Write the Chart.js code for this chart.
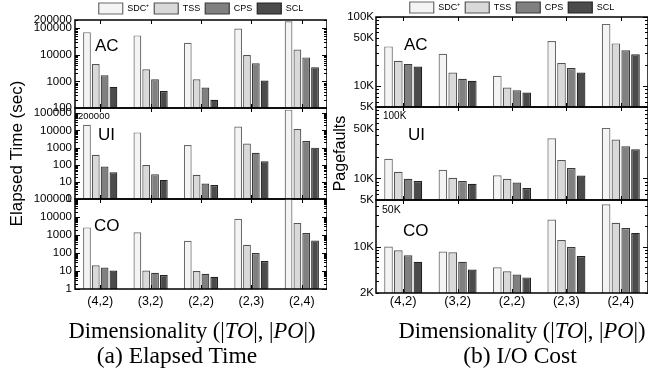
<!DOCTYPE html>
<html>
<head>
<meta charset="utf-8">
<script src="https://cdn.jsdelivr.net/npm/chart.js@4.4.0/dist/chart.umd.min.js"></script>
<style>
  body { margin: 0; background: #fff; }
  #wrap { position: relative; width: 659px; height: 372px; overflow: hidden; }
  canvas { position: absolute; }
  .lbl { position: absolute; font-family: "Liberation Sans", Arial, sans-serif; line-height: 1; color: #000; white-space: nowrap; }
  .cap { position: absolute; font-family: "Liberation Serif", "Times New Roman", serif; line-height: 1; transform: translateX(-50%); white-space: nowrap; color: #000; }
</style>
</head>
<body>
<div id="wrap">
  <canvas id="tAC"></canvas><canvas id="tUI"></canvas><canvas id="tCO"></canvas>
  <canvas id="pAC"></canvas><canvas id="pUI"></canvas><canvas id="pCO"></canvas>

  <div class="lbl" style="left:95px;top:37px;font-size:17px">AC</div>
  <div class="lbl" style="left:98px;top:126px;font-size:17px">UI</div>
  <div class="lbl" style="left:94px;top:217px;font-size:17px">CO</div>
  <div class="lbl" style="left:404px;top:36px;font-size:17px">AC</div>
  <div class="lbl" style="left:408px;top:126px;font-size:17px">UI</div>
  <div class="lbl" style="left:403px;top:222px;font-size:17px">CO</div>

  <div class="lbl" style="left:78px;top:111px;font-size:9.5px">200000</div>
  <div class="lbl" style="left:383px;top:111px;font-size:10px">100K</div>
  <div class="lbl" style="left:382px;top:204px;font-size:10.5px">50K</div>

  <div class="cap" style="left:192px;top:320px;font-size:22.5px">Dimensionality (|<i>TO</i>|, |<i>PO</i>|)</div>
  <div class="cap" style="left:177px;top:344px;font-size:23.5px">(a) Elapsed Time</div>
  <div class="cap" style="left:522px;top:320px;font-size:22.5px">Dimensionality (|<i>TO</i>|, |<i>PO</i>|)</div>
  <div class="cap" style="left:520px;top:344px;font-size:23.5px">(b) I/O Cost</div>
</div>

<script>
// ===== DATA =====
const categories = ["(4,2)", "(3,2)", "(2,2)", "(2,3)", "(2,4)"];
const methods = ["SDC\u207A", "TSS", "CPS", "SCL"];

// Elapsed time (sec)
const timeAC_SDC = [70000, 53000, 28000, 96000, 178000];
const timeAC_TSS = [4500, 2850, 1200, 9700, 15500];
const timeAC_CPS = [1700, 1200, 590, 4800, 7900];
const timeAC_SCL = [620, 430, 205, 1080, 3400];

const timeUI_SDC = [21000, 7600, 1400, 16500, 160000];
const timeUI_TSS = [380, 95, 26, 1700, 12000];
const timeUI_CPS = [78, 28, 8, 490, 2400];
const timeUI_SCL = [36, 13, 6.6, 160, 980];

const timeCO_SDC = [2650, 1400, 480, 8000, 120000];
const timeCO_TSS = [21, 10.5, 10, 290, 4700];
const timeCO_CPS = [15.5, 8, 7, 100, 1300];
const timeCO_SCL = [10.5, 6, 4.8, 36, 500];

// Pagefaults
const pfAC_SDC = [37600, 29400, 14100, 44800, 79500];
const pfAC_TSS = [23300, 15800, 9560, 21600, 41500];
const pfAC_CPS = [21000, 12800, 8700, 18300, 33000];
const pfAC_SCL = [19200, 12000, 8100, 15800, 29000];

const pfUI_SDC = [18900, 13200, 11100, 36400, 51000];
const pfUI_TSS = [12400, 10200, 9900, 18100, 35000];
const pfUI_CPS = [9900, 9200, 8800, 14000, 28200];
const pfUI_SCL = [9200, 8450, 7350, 11000, 25700];

const pfCO_SDC = [10000, 8400, 4860, 25400, 43000];
const pfCO_TSS = [8800, 8200, 4230, 12500, 22700];
const pfCO_CPS = [7400, 5900, 3800, 9800, 19000];
const pfCO_SCL = [5900, 4500, 3430, 7200, 16000];

// tick labels shown on each y axis
const timeTicksAC = [100, 1000, 10000, 100000, 200000];
const timeTicksUI = [1, 10, 100, 1000, 10000, 100000];
const timeTicksCO = [1, 10, 100, 1000, 10000, 100000];
const pfTicksAC = [5000, 10000, 50000, 100000];
const pfTicksUI = [5000, 10000, 50000];
const pfTicksCO = [2000, 10000];

// ===== STYLE =====
const fills   = ["#f4f4f4", "#d9d9d9", "#808080", "#4b4b4b"];
const strokes = ["#6a6a6a", "#555555", "#3a3a3a", "#222222"];

Chart.defaults.font.family = '"Liberation Sans", Arial, sans-serif';
Chart.defaults.color = "#000";

// all decade + 2..9 minor positions inside [min, max]
function logTicks(min, max) {
  const out = [];
  for (let e = Math.floor(Math.log10(min)); e <= Math.ceil(Math.log10(max)); e++) {
    for (let k = 1; k <= 9; k++) {
      const v = k * Math.pow(10, e);
      if (v >= min && v <= max) out.push(v);
    }
  }
  return out;
}

const isDecade = v => Math.abs(Math.log10(v) - Math.round(Math.log10(v))) < 1e-9;

// box round the plot with inward ticks, gnuplot style
const framePlugin = {
  id: "frame",
  afterDraw(chart) {
    const { ctx, chartArea: a, scales: { x, y } } = chart;
    ctx.save();
    ctx.strokeStyle = "#000";
    ctx.lineWidth = 1;
    ctx.beginPath();
    y.ticks.forEach(t => {
      const py = Math.round(y.getPixelForValue(t.value)) + 0.5;
      const len = isDecade(t.value) ? 5 : 3;
      ctx.moveTo(a.left, py);  ctx.lineTo(a.left + len, py);
      ctx.moveTo(a.right, py); ctx.lineTo(a.right - len, py);
    });
    x.ticks.forEach((t, i) => {
      const px = Math.round(x.getPixelForTick(i)) + 0.5;
      ctx.moveTo(px, a.top);    ctx.lineTo(px, a.top + 4);
      ctx.moveTo(px, a.bottom); ctx.lineTo(px, a.bottom - 4);
    });
    ctx.stroke();
    ctx.lineWidth = 1.5;
    ctx.strokeRect(a.left, a.top, a.right - a.left, a.bottom - a.top);
    ctx.restore();
  }
};

function subplot(id, o) {
  const cv = document.getElementById(id);
  const legendH = o.legendH || 0;
  const xH = o.showX ? o.xH : 0;
  const extra = o.title ? 50 : 10;   // spare room so edge labels and the rotated title are not cut
  const canvasTop = o.plotTop - legendH - extra;
  cv.width = o.canvasW;
  cv.height = o.plotBottom - canvasTop + xH + extra;
  cv.style.left = o.canvasLeft + "px";
  cv.style.top = canvasTop + "px";

  return new Chart(cv, {
    type: "bar",
    data: {
      labels: categories,
      datasets: methods.map((m, i) => ({
        label: m,
        data: o.series[i],
        backgroundColor: fills[i],
        borderColor: strokes[i],
        borderWidth: 1.2,
        categoryPercentage: o.catPct,
        barPercentage: 0.88
      }))
    },
    options: {
      responsive: false,
      animation: false,
      layout: { padding: { top: extra, bottom: extra, left: 0, right: 0 } },
      plugins: {
        legend: {
          display: !!o.legendH,
          position: "top",
          fullSize: false,
          maxHeight: legendH,
          labels: { boxWidth: 24, boxHeight: 11, padding: 5, font: { size: 9 }, color: "#000" }
        },
        tooltip: { enabled: false }
      },
      scales: {
        x: {
          grid: { display: false, drawTicks: false },
          border: { display: false },
          ticks: { display: !!o.showX, padding: o.xPad, font: { size: o.xFont }, color: "#000", maxRotation: 0, autoSkip: false },
          afterFit: s => { s.height = xH; s.paddingLeft = 0; s.paddingRight = 0; }
        },
        y: {
          type: "logarithmic",
          min: o.min,
          max: o.max,
          grid: { display: false, drawTicks: false },
          border: { display: false },
          afterBuildTicks: s => { s.ticks = logTicks(o.min, o.max).map(v => ({ value: v })); },
          afterFit: s => { s.width = o.yW; s.paddingTop = 0; s.paddingBottom = 0; },
          ticks: {
            autoSkip: false,
            padding: o.yPad,
            font: { size: o.yFont },
            color: "#000",
            callback: v => (o.shown.includes(v) ? o.fmt(v) : "")
          },
          title: {
            display: !!o.title,
            text: o.title || "",
            font: { size: o.titleFont || 16 },
            color: "#000",
            padding: { top: o.titlePad || 0, bottom: 0 }
          }
        }
      }
    },
    plugins: [framePlugin]
  });
}

const plain = v => String(v);
const kilo = v => (v / 1000) + "K";

const left  = { canvasLeft: 0,   canvasW: 327, yW: 75, yPad: 3, yFont: 11.5, xFont: 12.5, xPad: 5, xH: 28, catPct: 0.7,  fmt: plain };
const right = { canvasLeft: 330, canvasW: 318, yW: 46, yPad: 2, yFont: 11.5, xFont: 13,   xPad: 1, xH: 28, catPct: 0.72, fmt: kilo };

// ===== (a) ELAPSED TIME =====
subplot("tAC", Object.assign({}, left, {
  plotTop: 20, plotBottom: 108, legendH: 22, min: 100, max: 200000, shown: timeTicksAC,
  series: [timeAC_SDC, timeAC_TSS, timeAC_CPS, timeAC_SCL]
}));
subplot("tUI", Object.assign({}, left, {
  plotTop: 108, plotBottom: 199, min: 1, max: 200000, shown: timeTicksUI,
  title: "Elapsed Time (sec)", titleFont: 17, titlePad: 7,
  series: [timeUI_SDC, timeUI_TSS, timeUI_CPS, timeUI_SCL]
}));
subplot("tCO", Object.assign({}, left, {
  plotTop: 199, plotBottom: 289, min: 1, max: 100000, shown: timeTicksCO, showX: true,
  series: [timeCO_SDC, timeCO_TSS, timeCO_CPS, timeCO_SCL]
}));

// ===== (b) I/O COST =====
subplot("pAC", Object.assign({}, right, {
  plotTop: 17, plotBottom: 107, legendH: 20, min: 5000, max: 100000, shown: pfTicksAC,
  series: [pfAC_SDC, pfAC_TSS, pfAC_CPS, pfAC_SCL]
}));
subplot("pUI", Object.assign({}, right, {
  plotTop: 107, plotBottom: 200, min: 5000, max: 100000, shown: pfTicksUI,
  title: "Pagefaults", titleFont: 16, titlePad: 1,
  series: [pfUI_SDC, pfUI_TSS, pfUI_CPS, pfUI_SCL]
}));
subplot("pCO", Object.assign({}, right, {
  plotTop: 200, plotBottom: 293, min: 2000, max: 50000, shown: pfTicksCO, showX: true,
  series: [pfCO_SDC, pfCO_TSS, pfCO_CPS, pfCO_SCL]
}));
</script>
</body>
</html>
